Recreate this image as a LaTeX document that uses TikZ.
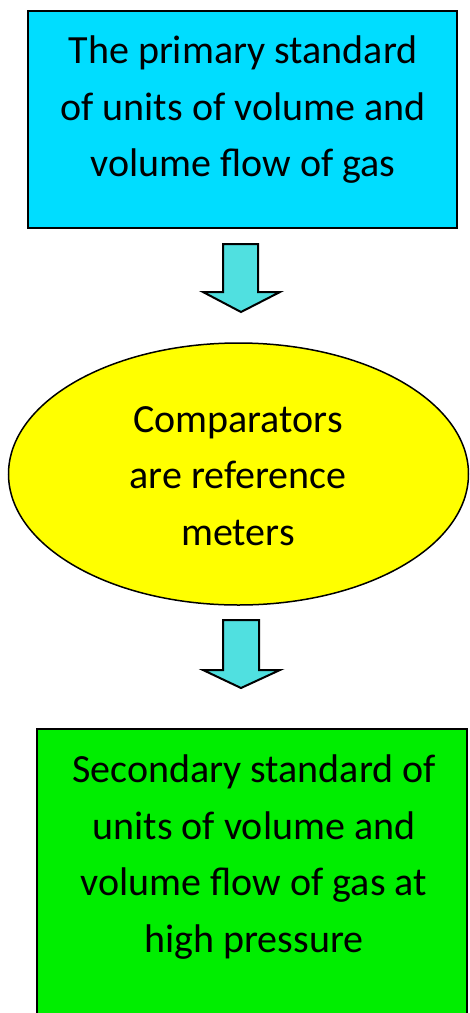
\documentclass[tikz,border=0pt]{standalone}
\usepackage{fontspec}
\setmainfont{Carlito}
\usetikzlibrary{shapes.geometric}
\definecolor{topcyan}{RGB}{0,221,255}
\definecolor{midyellow}{RGB}{255,255,0}
\definecolor{botgreen}{RGB}{0,238,0}
\definecolor{arrcyan}{RGB}{80,224,224}
\begin{document}
\begin{tikzpicture}[x=1pt,y=1pt,
  boxtext/.style={align=center,font=\fontsize{40}{56.5}\selectfont,inner sep=0pt},
  blockarrow/.style={fill=arrcyan,draw=black,line width=2pt,line join=miter}]
\useasboundingbox (0,0) rectangle (469,-1013);
% top box
\draw[fill=topcyan,line width=2pt] (28,-11) rectangle (457,-228);
\node[boxtext] (top) at (243,-110) {The primary standard\\of units of volume and\\volume flow of gas};
% ellipse
\node[ellipse,draw=black,fill=midyellow,line width=1.5pt,minimum width=460pt,minimum height=262pt,inner sep=0pt] (mid) at (238.5,-474) {};
\node[boxtext] (midtext) at (238,-476) {Comparators\\are reference\\meters};
% bottom box
\draw[fill=botgreen,line width=2pt] (37,-729) rectangle (467,-1030);
\node[boxtext] (bot) at (254,-857) {Secondary standard of\\units of volume and\\volume flow of gas at\\high pressure};
% arrows
\draw[blockarrow] (223,-244) -- (258,-244) -- (258,-292) -- (280,-292) -- (241,-312) -- (203,-292) -- (223,-292) -- cycle;
\draw[blockarrow] (223,-620) -- (259,-620) -- (259,-670) -- (280,-670) -- (241,-688) -- (203,-670) -- (223,-670) -- cycle;
\end{tikzpicture}
\end{document}
